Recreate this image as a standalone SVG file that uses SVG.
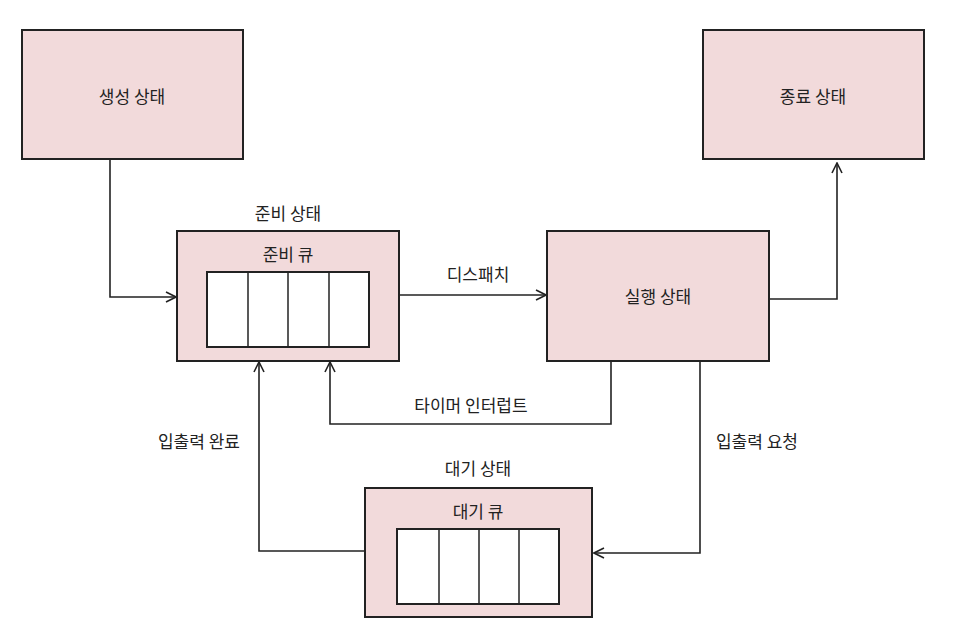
<svg xmlns="http://www.w3.org/2000/svg" width="954" height="642" viewBox="0 0 954 642">
<style>
.box{fill:#f2dadb;stroke:#222;stroke-width:2}
.q{fill:#ffffff;stroke:#222;stroke-width:2}
.div{stroke:#222;stroke-width:1.5}
.t{font-family:"Noto Sans CJK KR","Noto Sans",sans-serif;font-size:17px;fill:#222;text-anchor:middle;dominant-baseline:central}
.c{fill:none;stroke:#222;stroke-width:1.6;marker-end:url(#arr)}
</style>
<defs>
<marker id="arr" viewBox="0 0 12 12" refX="11" refY="6" markerWidth="12" markerHeight="12" markerUnits="userSpaceOnUse" orient="auto">
<path d="M1,1 L11,6 L1,11" fill="none" stroke="#222" stroke-width="1.6"/>
</marker>
</defs>
<rect width="954" height="642" fill="#ffffff"/>
<g id="connectors">
<polyline class="c" points="110,159 110,297 176,297"/>
<polyline class="c" points="399,295 546,295"/>
<polyline class="c" points="769,299 837,299 837,163"/>
<polyline class="c" points="611,362 611,424 330,424 330,362"/>
<polyline class="c" points="700,362 700,553 594,553"/>
<polyline class="c" points="365,551 259,551 259,362"/>
<text class="t" x="478" y="273">디스패치</text>
<text class="t" x="471" y="404">타이머 인터럽트</text>
<text class="t" x="757" y="440">입출력 요청</text>
<text class="t" x="199" y="440">입출력 완료</text>
</g>
<g id="created">
<rect class="box" x="22" y="30" width="221" height="129"/>
<text class="t" x="132" y="95">생성 상태</text>
</g>
<g id="terminated">
<rect class="box" x="703" y="30" width="221" height="129"/>
<text class="t" x="813" y="95">종료 상태</text>
</g>
<g id="ready">
<text class="t" x="288" y="212">준비 상태</text>
<rect class="box" x="177" y="231" width="222" height="130"/>
<text class="t" x="288" y="253">준비 큐</text>
<rect class="q" x="207" y="272" width="162" height="75"/>
<line class="div" x1="248" y1="272" x2="248" y2="347"/>
<line class="div" x1="288" y1="272" x2="288" y2="347"/>
<line class="div" x1="329" y1="272" x2="329" y2="347"/>
</g>
<g id="running">
<rect class="box" x="547" y="231" width="222" height="130"/>
<text class="t" x="658" y="295">실행 상태</text>
</g>
<g id="waiting">
<text class="t" x="478" y="467">대기 상태</text>
<rect class="box" x="365" y="488" width="227" height="129"/>
<text class="t" x="478" y="510">대기 큐</text>
<rect class="q" x="397" y="529" width="162" height="75"/>
<line class="div" x1="439" y1="529" x2="439" y2="604"/>
<line class="div" x1="479" y1="529" x2="479" y2="604"/>
<line class="div" x1="519" y1="529" x2="519" y2="604"/>
</g>
</svg>
